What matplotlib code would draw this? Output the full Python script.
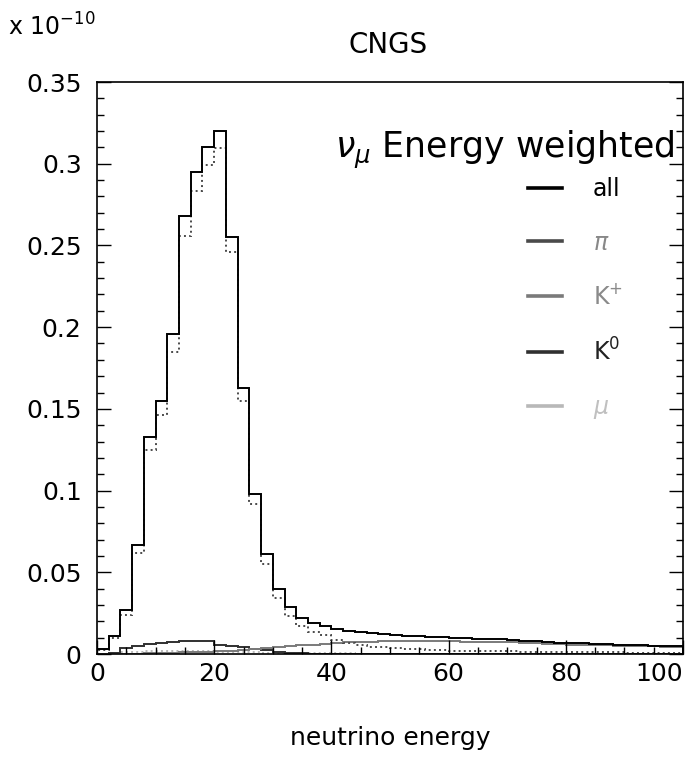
import matplotlib

matplotlib.use("Agg")
import matplotlib.pyplot as plt
import numpy as np
from matplotlib.ticker import MultipleLocator

# bin edges: 50 bins of 2 GeV, 0-100
EDGES = np.arange(0, 102, 2)
X_TICKS = [0, 20, 40, 60, 80, 100]

# energy weighted nu_mu flux per bin, units of 1e-10
FLUX_ALL = [
    0.003, 0.011, 0.027, 0.067, 0.133, 0.155, 0.196, 0.268, 0.295, 0.310,
    0.320, 0.255, 0.163, 0.098, 0.061, 0.040, 0.029, 0.022, 0.019, 0.017,
    0.0155, 0.0142, 0.0133, 0.0126, 0.0121, 0.0117, 0.0113, 0.0110, 0.0106, 0.0103,
    0.0100, 0.0097, 0.0094, 0.0092, 0.0090, 0.0088, 0.0080, 0.0078, 0.0076, 0.0070,
    0.0067, 0.0065, 0.0062, 0.0060, 0.0058, 0.0057, 0.0054, 0.0052, 0.0050, 0.0047,
]
FLUX_PI = [
    0.0025, 0.010, 0.024, 0.062, 0.125, 0.146, 0.185, 0.256, 0.283, 0.299,
    0.3095, 0.246, 0.155, 0.092, 0.055, 0.034, 0.023, 0.017, 0.0135, 0.0115,
    0.0085, 0.0065, 0.0058, 0.0045, 0.0040, 0.0035, 0.0031, 0.0028, 0.0025, 0.0023,
    0.0021, 0.0020, 0.0019, 0.0018, 0.0017, 0.0016, 0.0015, 0.0014, 0.0013, 0.0012,
    0.0012, 0.0011, 0.0011, 0.0010, 0.0010, 0.0009, 0.0009, 0.0008, 0.0008, 0.0008,
]
FLUX_KPLUS = [
    0.0, 0.0, 0.0, 0.0002, 0.0004, 0.0006, 0.0008, 0.0010, 0.0012, 0.0014,
    0.0017, 0.0020, 0.0025, 0.0030, 0.0037, 0.0045, 0.0050, 0.0055, 0.0058, 0.0062,
    0.0068, 0.0072, 0.0074, 0.0076, 0.0078, 0.0080, 0.0080, 0.0080, 0.0080, 0.0079,
    0.0078, 0.0076, 0.0075, 0.0074, 0.0072, 0.0071, 0.0067, 0.0066, 0.0064, 0.0060,
    0.0058, 0.0057, 0.0055, 0.0053, 0.0051, 0.0050, 0.0048, 0.0046, 0.0044, 0.0041,
]
FLUX_K0 = [
    0.0, 0.0005, 0.0037, 0.0047, 0.0063, 0.0067, 0.0073, 0.0082, 0.0082, 0.0078,
    0.0057, 0.0051, 0.0041, 0.0033, 0.0023, 0.0010, 0.0006, 0.0004, 0.0003, 0.0003,
    0.0002, 0.0002, 0.0002, 0.0002, 0.0001, 0.0001, 0.0001, 0.0001, 0.0001, 0.0001,
    0.0001, 0.0001, 0.0001, 0.0001, 0.0001, 0.0, 0.0, 0.0, 0.0, 0.0,
    0.0, 0.0, 0.0, 0.0, 0.0, 0.0, 0.0, 0.0, 0.0, 0.0,
]
FLUX_MU = [
    0.0003, 0.0008, 0.0012, 0.0015, 0.0017, 0.0018, 0.0018, 0.0018, 0.0017, 0.0016,
    0.0015, 0.0013, 0.0012, 0.0010, 0.0009, 0.0008, 0.0007, 0.0006, 0.0005, 0.0005,
    0.0004, 0.0004, 0.0003, 0.0003, 0.0003, 0.0002, 0.0002, 0.0002, 0.0002, 0.0002,
    0.0001, 0.0001, 0.0001, 0.0001, 0.0001, 0.0001, 0.0001, 0.0001, 0.0001, 0.0001,
    0.0001, 0.0001, 0.0001, 0.0001, 0.0001, 0.0, 0.0, 0.0, 0.0, 0.0,
]

# label, values, line colour, line style, legend text colour
SERIES = [
    ("all", FLUX_ALL, "#000000", "-", "#000000"),
    (r"$\pi$", FLUX_PI, "#4a4a4a", ":", "#888888"),
    (r"K$^{+}$", FLUX_KPLUS, "#7a7a7a", "-", "#8a8a8a"),
    (r"K$^{0}$", FLUX_K0, "#303030", "-", "#222222"),
    (r"$\mu$", FLUX_MU, "#b8b8b8", ":", "#c0c0c0"),
]

plt.rcParams["font.family"] = ["DejaVu Sans"]
plt.rcParams["mathtext.fontset"] = "dejavusans"

fig = plt.figure(figsize=(6.95, 7.69), dpi=100)
ax = fig.add_axes([97 / 695, 115 / 769, 586 / 695, 572 / 769])

for label, values, color, style, _ in SERIES[::-1]:
    ax.stairs(values, EDGES, color=color, linestyle=style, linewidth=1.4, label=label)

ax.set_xlim(0, 100)
ax.set_ylim(0, 0.35)

ax.set_xticks(X_TICKS, [str(t) for t in X_TICKS])
ax.xaxis.set_minor_locator(MultipleLocator(5))
ax.yaxis.set_major_locator(MultipleLocator(0.05))
ax.yaxis.set_minor_locator(MultipleLocator(0.01))
ax.yaxis.set_major_formatter(plt.FuncFormatter(lambda v, _: "0" if abs(v) < 1e-9 else f"{v:g}"))

ax.tick_params(which="both", direction="in", top=False, right=True, width=1.0)
ax.tick_params(which="major", length=10, labelsize=18)
ax.tick_params(which="minor", length=5)
ax.tick_params(axis="y", which="major", pad=11)
ax.tick_params(axis="x", which="major", pad=6)
for spine in ax.spines.values():
    spine.set_linewidth(1.2)

# keep "100" inside the canvas, as in the original
ax.get_xticklabels()[-1].set_horizontalalignment("right")

fig.text(8 / 695, 1 - 27 / 769, r"x 10$^{-10}$", fontsize=17, ha="left", va="center")
fig.text(388 / 695, 1 - 45 / 769, "CNGS", fontsize=20, ha="center", va="center")
fig.text(390 / 695, 1 - 738 / 769, "neutrino energy", fontsize=18, ha="center", va="center")

ax.text(0.985, 0.881, r"$\nu_{\mu}$ Energy weighted", transform=ax.transAxes,
        fontsize=25, ha="right", va="center")

leg = ax.legend(
    handles=[plt.Line2D([], [], color=c, linestyle="-", linewidth=2.6) for _, _, c, _, _ in SERIES],
    labels=[s[0] for s in SERIES],
    loc="upper left",
    bbox_to_anchor=(528 / 695, 1 - 177 / 769),
    bbox_transform=fig.transFigure,
    frameon=False,
    fontsize=17,
    handlelength=1.45,
    handletextpad=1.3,
    labelspacing=1.25,
    borderpad=0,
    borderaxespad=0,
)
for text, (_, _, _, _, tcolor) in zip(leg.get_texts(), SERIES):
    text.set_color(tcolor)

fig.savefig("out.png", dpi=100, facecolor="white")
plt.close(fig)
